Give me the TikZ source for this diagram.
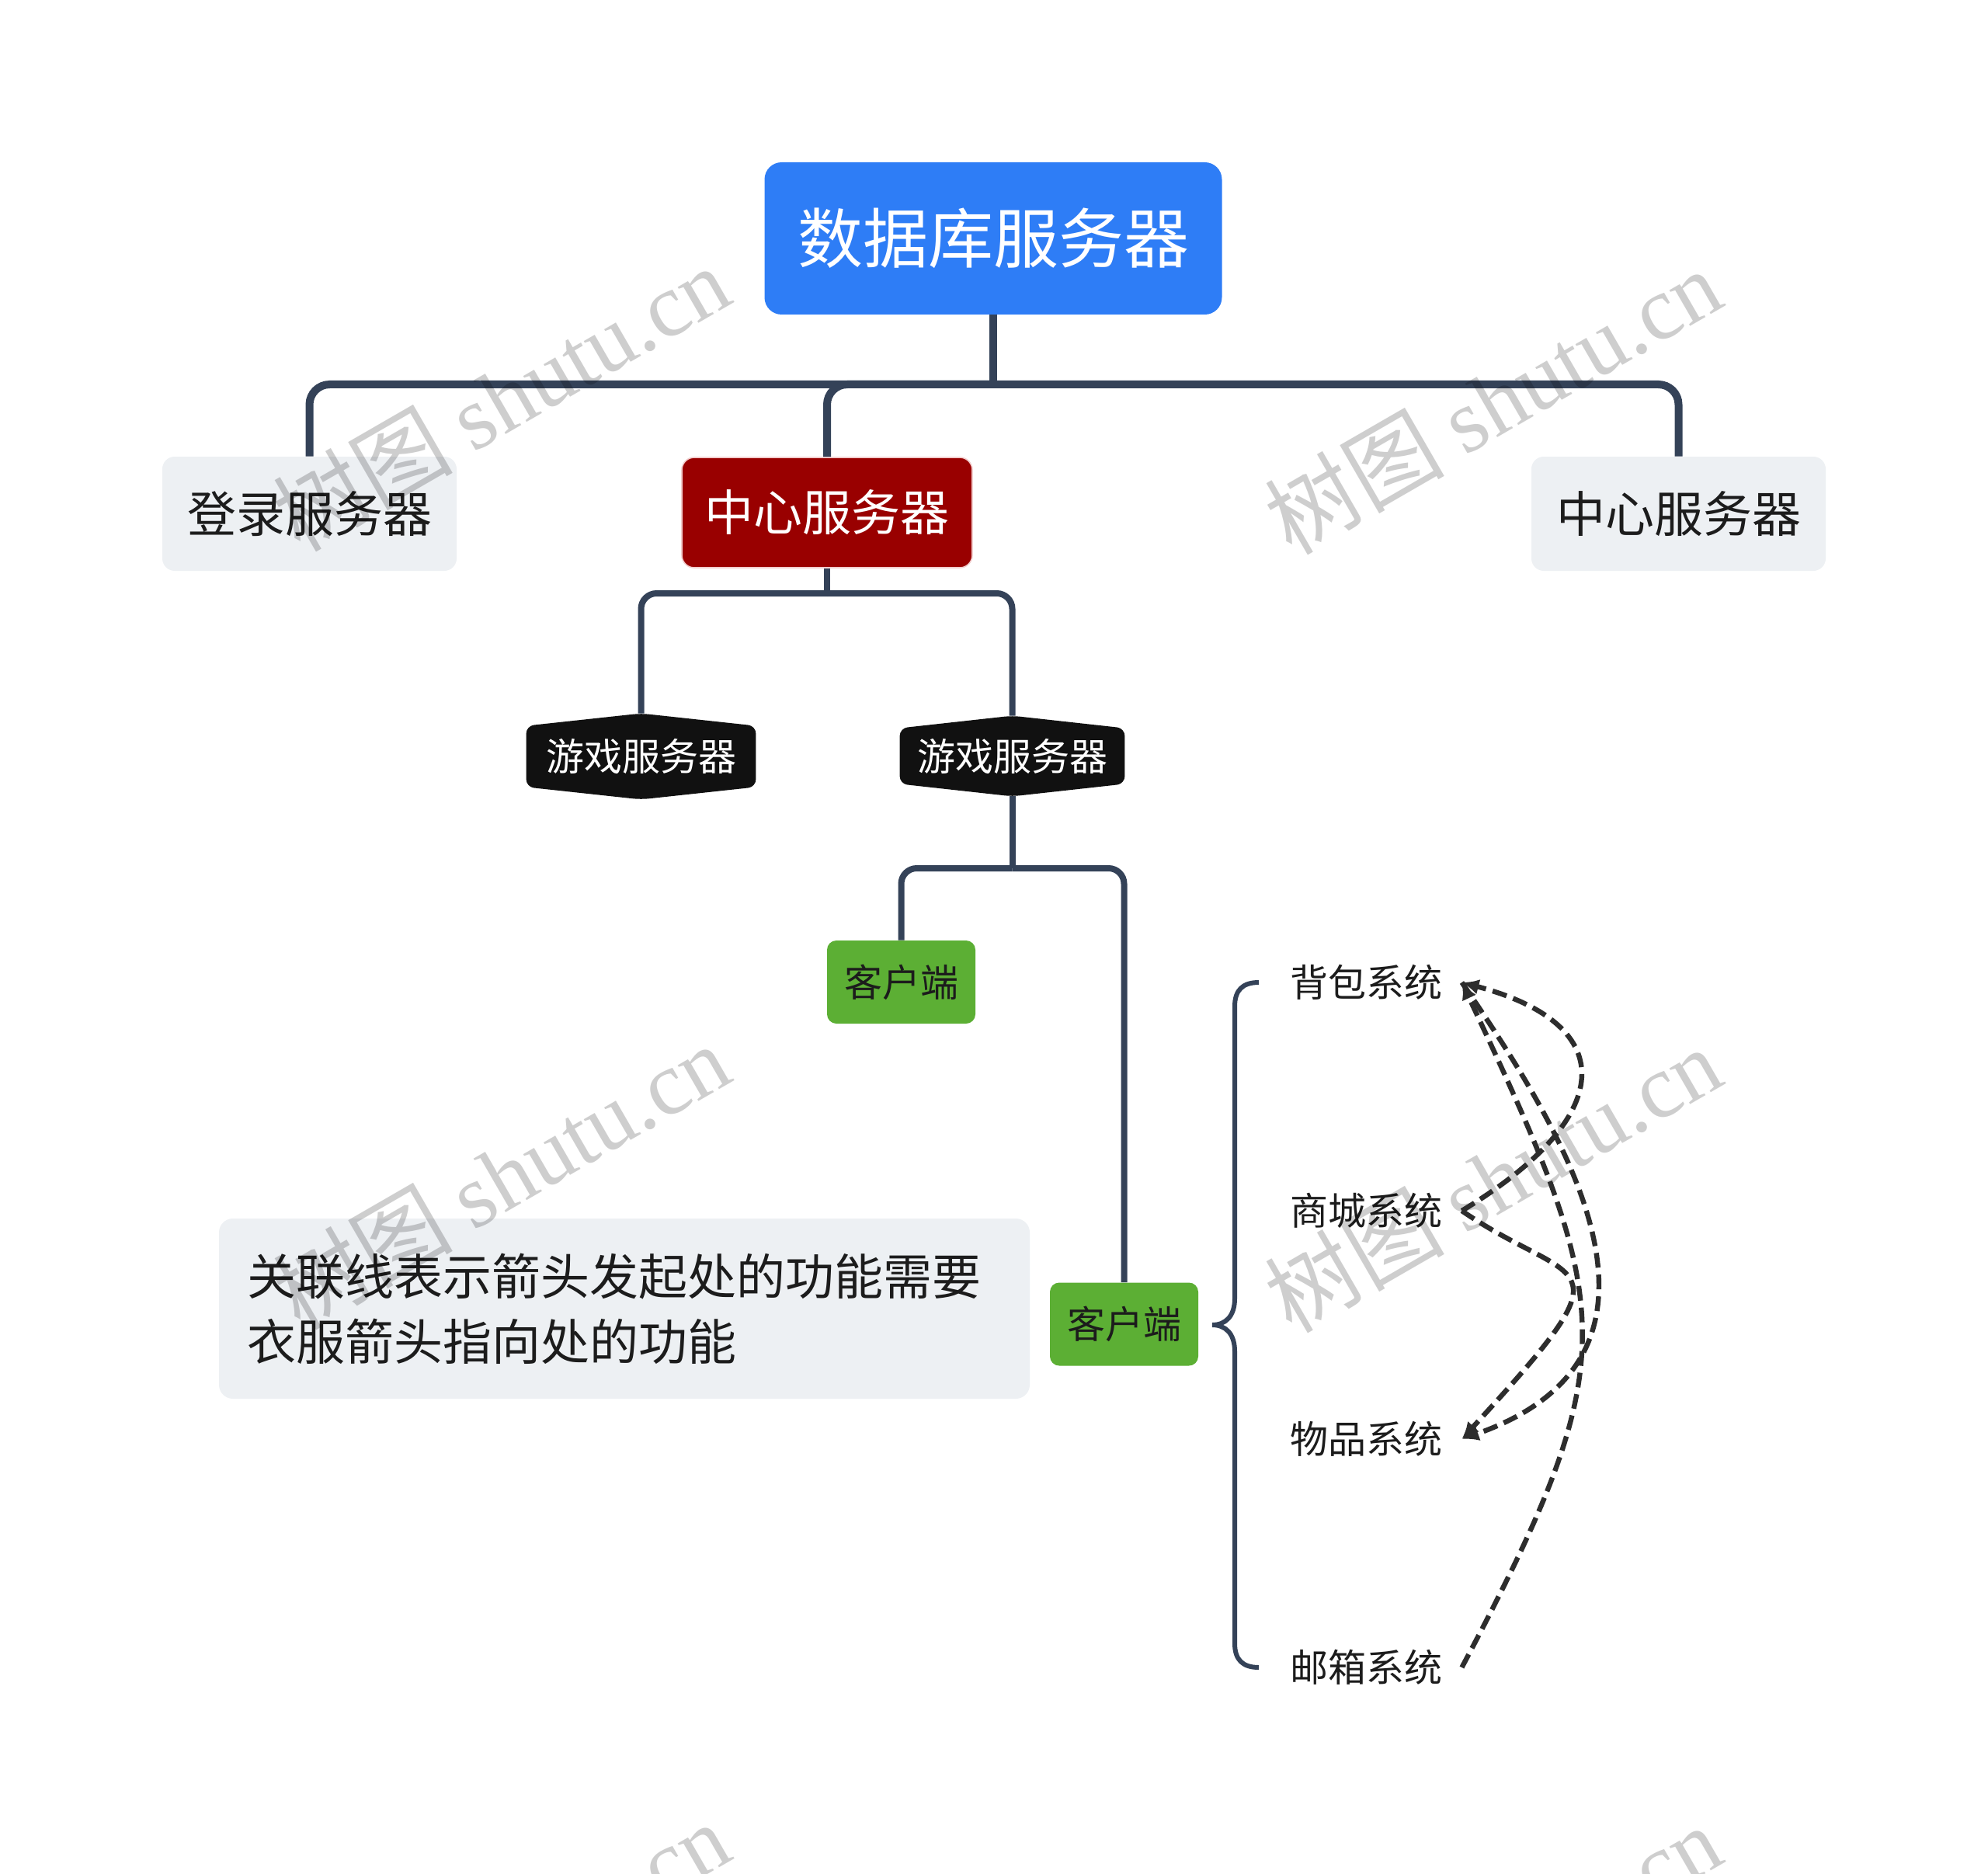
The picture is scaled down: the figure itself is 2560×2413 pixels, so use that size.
\documentclass[tikz,border=0pt]{standalone}
\usepackage{fontspec}
\setmainfont{Noto Sans CJK SC}
\newfontfamily\wmserif{Liberation Serif}
\usetikzlibrary{arrows.meta,calc}
\pgfdeclarelayer{background}
\pgfsetlayers{background,main}
\definecolor{rootblue}{RGB}{46,125,246}
\definecolor{greyfill}{RGB}{237,240,243}
\definecolor{darkred}{RGB}{153,0,0}
\definecolor{redborder}{RGB}{242,205,205}
\definecolor{hexblack}{RGB}{17,17,17}
\definecolor{greenfill}{RGB}{92,175,52}
\definecolor{linec}{RGB}{52,66,88}
\definecolor{relc}{RGB}{45,45,45}
\definecolor{wmc}{RGB}{206,206,206}
\definecolor{txt}{RGB}{28,28,28}
\tikzset{
  rootbox/.style={fill=rootblue, text=white, rounded corners=11pt, inner sep=0pt,
    minimum width=294.5pt, minimum height=98pt, font=\fontsize{42}{50}\selectfont},
  greybox/.style={fill=greyfill, text=txt, rounded corners=8pt, inner sep=0pt,
    minimum width=189.5pt, minimum height=73.5pt, font=\fontsize{31.5}{38}\selectfont},
  redbox/.style={fill=darkred, draw=redborder, line width=0.8pt, text=white, rounded corners=8pt, inner sep=0pt,
    minimum width=187pt, minimum height=71pt, font=\fontsize{31.5}{38}\selectfont},
  hexbox/.style={text=white, inner sep=0pt, font=\fontsize{24.5}{30}\selectfont},
  greenbox/.style={fill=greenfill, text=txt, rounded corners=6pt, inner sep=0pt,
    minimum width=95.5pt, minimum height=53.5pt, font=\fontsize{24.5}{29}\selectfont},
  notebox/.style={fill=greyfill, text=txt, rounded corners=9pt, inner xsep=18pt, inner ysep=0pt,
    minimum height=116pt, text width=486pt, align=left, font=\fontsize{31.5}{42}\selectfont},
  subtxt/.style={text=txt, inner xsep=12.5pt, inner ysep=4pt, font=\fontsize{24.5}{29}\selectfont},
  lone/.style={draw=linec, line width=5pt},
  ltwo/.style={draw=linec, line width=4pt},
  rel/.style={draw=relc, line width=3.2pt, dash pattern=on 9.5pt off 4.5pt,
    -{Latex[length=11pt,width=10pt]}},
  wm/.style={text=wmc, rotate=30, font=\fontsize{58}{66}\selectfont, inner sep=0pt}
}
\begin{document}
\begin{tikzpicture}[x=0.5pt,y=-0.5pt]
\useasboundingbox (0,0) rectangle (2560,2413);
\begin{pgfonlayer}{background}
\fill[white] (0,0) rectangle (2560,2413);
\end{pgfonlayer}

% nodes
\node[rootbox] (root) at (1279,307) {数据库服务器};
\node[greybox] (login) at (398.5,661.5) {登录服务器};
\node[redbox] (red) at (1065,660) {中心服务器};
\node[greybox] (center2) at (2161.5,661.5) {中心服务器};
\node[hexbox, minimum width=147.5pt, minimum height=55pt] (h1) at (825.5,974) {游戏服务器};
\node[hexbox, minimum width=144.5pt, minimum height=51.5pt] (h2) at (1303.5,973.5) {游戏服务器};
\node[greenbox] (k1) at (1160.5,1264.5) {客户端};
\node[greenbox] (k2) at (1447.5,1705) {客户端};
\node[notebox] (note) at (804,1685) {关联线表示箭头发起处的功能需要\\衣服箭头指向处的功能};
\node[subtxt] (t1) at (1759,1265) {背包系统};
\node[subtxt] (t2) at (1759,1559) {商城系统};
\node[subtxt] (t3) at (1759,1853) {物品系统};
\node[subtxt] (t4) at (1759,2147) {邮箱系统};

% hexagon fills
\begin{pgfonlayer}{background}
\foreach \h in {h1,h2}{
  \fill[hexblack, rounded corners=5pt]
    ([yshift=-8pt]\h.north west) -- (\h.north) -- ([yshift=-8pt]\h.north east)
    -- ([yshift=8pt]\h.south east) -- (\h.south) -- ([yshift=8pt]\h.south west) -- cycle;
}
\end{pgfonlayer}

% tree connectors
\coordinate (b1) at (1279,495);
\draw[lone] (root.south) -- (b1);
\draw[lone, rounded corners=13pt] (b1) -| (login.north);
\draw[lone, rounded corners=13pt] (b1) -| (red.north);
\draw[lone, rounded corners=13pt] (b1) -| (center2.north);

\coordinate (b2) at (1065,764);
\draw[ltwo] (red.south) -- (b2);
\draw[ltwo, rounded corners=10pt] (b2) -| (h1.north);
\draw[ltwo, rounded corners=10pt] (b2) -| (h2.north);

\coordinate (b3) at (1303.5,1118);
\draw[ltwo] (h2.south) -- (b3);
\draw[ltwo, rounded corners=10pt] (b3) -| (k1.north);
\draw[ltwo, rounded corners=10pt] (b3) -| (k2.north);

% brace
\coordinate (bt) at (1561,1706);
\draw[linec, line width=3pt] (1621,1265) .. controls (1600,1265) and (1590,1275) .. (1590,1296)
  -- (1590,1672) .. controls (1590,1695) and (1578,1706) .. (bt)
  .. controls (1578,1706) and (1590,1717) .. (1590,1740)
  -- (1590,2116) .. controls (1590,2137) and (1600,2147) .. (1621,2147);

% watermark
\begin{scope}[blend mode=multiply]
\foreach \x/\y [count=\i] in {645/512, 1922/516, 645/1514, 1922/1518, 645/2516, 1922/2520}
  \node[wm] (wm\i) at (\x,\y) {树图 {\wmserif shutu.cn}};
\end{scope}

% relationship lines
\draw[rel] (t2.east) .. controls (2080,1440) and (2090,1320) .. (t1.east);
\draw[rel] (t2.east) .. controls (2031,1661) and (2107,1609) .. (t3.east);
\draw[rel] (t1.east) .. controls (2020,1465) and (2190,1745) .. (t3.east);
\draw[rel] (t4.east) .. controls (2096,1745) and (2080,1685) .. (t1.east);
\end{tikzpicture}
\end{document}
